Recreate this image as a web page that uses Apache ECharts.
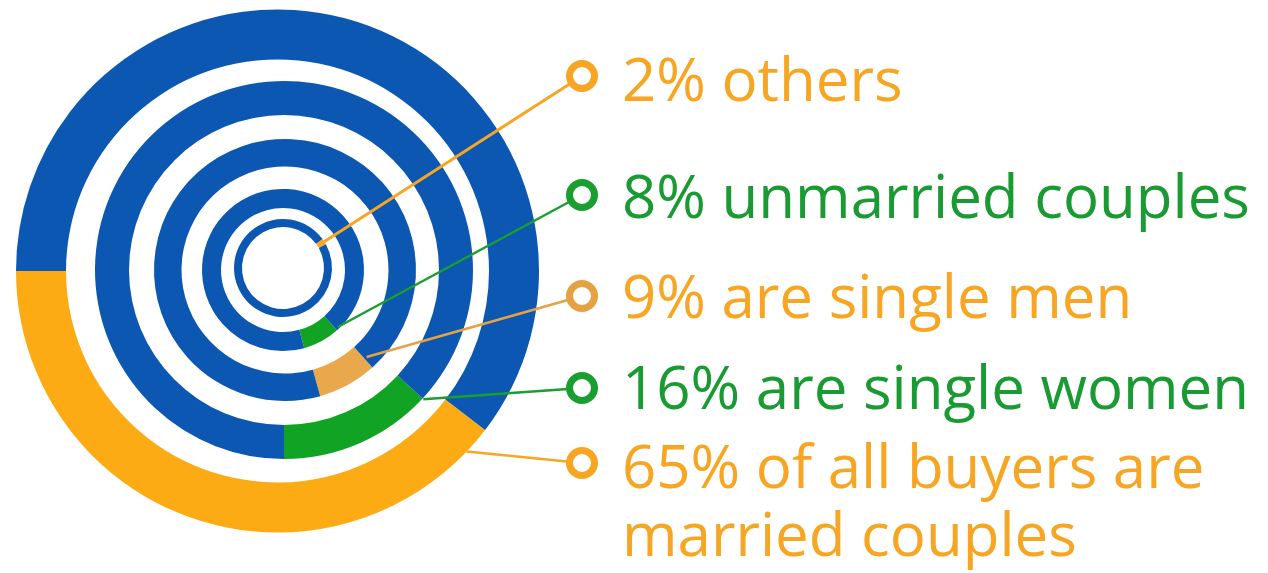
<!DOCTYPE html>
<html>
<head>
<meta charset="utf-8">
<script src="https://cdn.jsdelivr.net/npm/echarts@6/dist/echarts.min.js"></script>
<style>
html,body{margin:0;padding:0;background:#fff;}
#chart{width:1268px;height:573px;}
</style>
</head>
<body>
<div id="chart"></div>
<script>
// ---- data (inner ring -> outer ring, top row -> bottom row) ----
const categories = ['others', 'unmarried couples', 'are single men', 'are single women', 'of all buyers are\nmarried couples'];
const shares = [2, 8, 9, 16, 65];            // labelled percentages
const arcDrawn = [2.0, 7.4, 7.3, 13.1, 39.6]; // coloured arc as drawn, % of full circle

// ---- styling / layout ----
const BLUE = '#0b57b1';
const segColors = ['#f9a825', '#10a324', '#e9a84c', '#10a324', '#fcab15'];
const lineColors = ['#f6a623', '#1a9e30', '#e5a243', '#1a9e30', '#f7a621'];
const textColors = ['#f6a623', '#1a9a33', '#f6a623', '#1a9a33', '#f6a623'];
const rings = [
  { c: [283, 268], r: [41, 49], start: 29 },
  { c: [283, 270], r: [62, 81], start: 285.2 },
  { c: [285, 270], r: [103.5, 131], start: 285.6 },
  { c: [284, 270], r: [155, 189], start: 270 },
  { c: [277.5, 271], r: [211.5, 261.5], start: 180 }
];
const markerX = 582;
const markerY = [76, 195, 296, 388, 463];
const textX = 622;
const textTop = [50, 167, 267, 358, 437];

function pt(ring, angDeg, rad) {
  const a = angDeg * Math.PI / 180;
  return [ring.c[0] + rad * Math.cos(a), ring.c[1] - rad * Math.sin(a)];
}

const series = rings.map((ring, i) => ({
  type: 'pie',
  center: ring.c,
  radius: ring.r,
  startAngle: ring.start,
  clockwise: false,
  silent: true,
  animation: false,
  avoidLabelOverlap: false,
  label: { show: false },
  labelLine: { show: false },
  emphasis: { disabled: true },
  itemStyle: { borderWidth: 0 },
  data: [
    { name: categories[i], value: arcDrawn[i], itemStyle: { color: segColors[i] } },
    { name: 'rest', value: 100 - arcDrawn[i], itemStyle: { color: BLUE } }
  ]
}));

// leader-line anchor on each ring (derived from the ring's arc)
const anchors = rings.map((ring, i) => {
  const endAng = ring.start + arcDrawn[i] * 3.6;
  if (i === 0) return pt(ring, ring.start + arcDrawn[i] * 1.8, (ring.r[0] + ring.r[1]) / 2 + 1);
  if (i === 1) return pt(ring, endAng + 2, ring.r[1] - 2);
  if (i === 2) return pt(ring, endAng + 1.3, (ring.r[0] + ring.r[1]) / 2 + 2);
  if (i === 3) return pt(ring, endAng, ring.r[1] + 1);
  return pt(ring, endAng - 6.2, ring.r[1]);
});

const graphics = [];
rings.forEach((ring, i) => {
  graphics.push({
    type: 'line', z: 100,
    shape: { x1: anchors[i][0], y1: anchors[i][1], x2: markerX, y2: markerY[i] },
    style: { stroke: lineColors[i], lineWidth: i === 0 ? 3 : 2.5 }
  });
  graphics.push({
    type: 'circle', z: 101,
    shape: { cx: markerX, cy: markerY[i], r: 12.5 },
    style: { fill: '#fff', stroke: lineColors[i], lineWidth: 7 }
  });
  graphics.push({
    type: 'text', z: 101, x: textX, y: textTop[i],
    style: {
      text: shares[i] + '% ' + categories[i],
      fontSize: 60, fontFamily: '"Open Sans"', fontWeight: 'normal',
      fill: textColors[i], align: 'left', verticalAlign: 'top', lineHeight: 68
    }
  });
});

const chart = echarts.init(document.getElementById('chart'), null, { renderer: 'canvas' });
chart.setOption({
  backgroundColor: '#ffffff',
  animation: false,
  series: series,
  graphic: { elements: graphics }
});
</script>
</body>
</html>
